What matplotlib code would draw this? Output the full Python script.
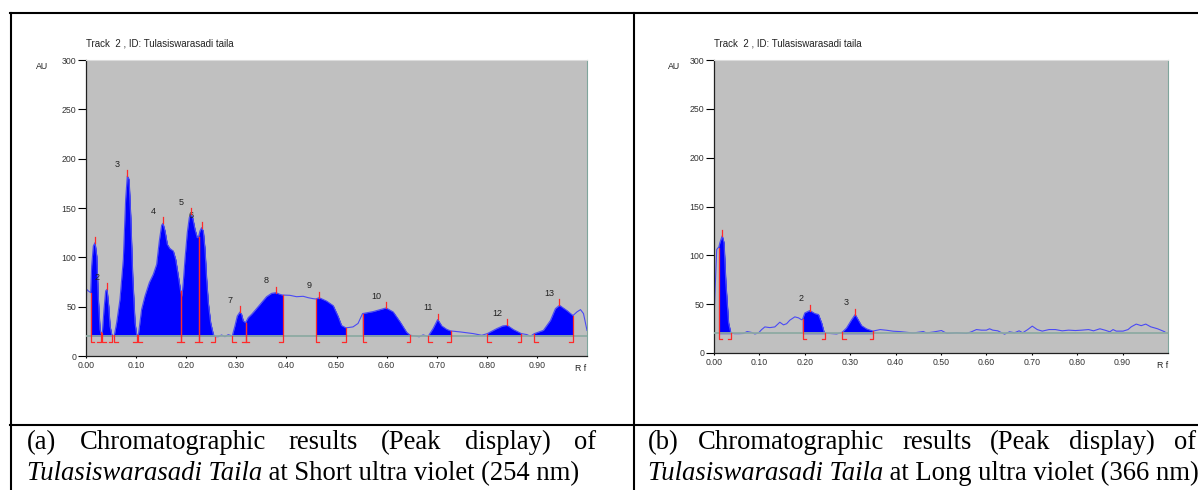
import numpy as np
import matplotlib
matplotlib.use("Agg")
import matplotlib.pyplot as plt
from matplotlib.lines import Line2D

# ---- panel (a): 254 nm scan, Rf vs AU ----
rf_a = [0.0, 0.0013, 0.0047, 0.0093, 0.0113, 0.0146, 0.018, 0.0213, 0.0246, 0.0279, 0.0299,
        0.0326, 0.0359, 0.0392, 0.0419, 0.0452, 0.0479, 0.0512, 0.0539, 0.0565, 0.0612,
        0.0678, 0.0745, 0.0791, 0.0824, 0.0858, 0.0891, 0.0931, 0.0977, 0.1011, 0.1044,
        0.111, 0.1177, 0.1263, 0.1343, 0.141, 0.1463, 0.1509, 0.1536, 0.1576, 0.1622,
        0.1676, 0.1742, 0.1789, 0.1842, 0.1888, 0.1915, 0.1941, 0.1975, 0.2021, 0.2061,
        0.2094, 0.2128, 0.2174, 0.2221, 0.2247, 0.2274, 0.2307, 0.234, 0.2374, 0.2407,
        0.244, 0.2487, 0.254, 0.2573, 0.264, 0.2706, 0.2773, 0.2839, 0.2919, 0.2972,
        0.3019, 0.3072, 0.3105, 0.3138, 0.3185, 0.3238, 0.3305, 0.3404, 0.3504, 0.3604,
        0.3703, 0.379, 0.387, 0.3923, 0.4069, 0.4202, 0.4335, 0.4435, 0.4535, 0.4588,
        0.4654, 0.48, 0.4934, 0.5033, 0.51, 0.5186, 0.533, 0.543, 0.552, 0.573, 0.587,
        0.599, 0.613, 0.627, 0.64, 0.647, 0.657, 0.665, 0.673, 0.681, 0.683, 0.693, 0.702,
        0.71, 0.72, 0.728, 0.747, 0.773, 0.79, 0.801, 0.82, 0.832, 0.841, 0.853, 0.869,
        0.88, 0.887, 0.895, 0.913, 0.927, 0.937, 0.945, 0.96, 0.972, 0.98, 0.987, 0.993, 1.0]
au_a = [32.1, 67.6, 65.9, 64.2, 91.2, 111.5, 114.9, 101.4, 57.4, 27.0, 22.6,
        23.6, 47.3, 65.9, 67.6, 50.7, 30.4, 22.0, 19.6, 20.9, 33.8,
        57.4, 98.0, 158.8, 182.4, 179.1, 141.9, 81.1, 33.8, 21.6, 20.9,
        47.3, 60.8, 74.3, 82.8, 92.9, 116.6, 132.4, 134.5, 126.7, 113.2,
        108.8, 106.4, 98.0, 81.1, 65.9, 60.8, 74.3, 98.0, 125.0, 140.2,
        143.6, 140.2, 128.4, 119.9, 120.9, 126.7, 130.1, 126.7, 108.1, 77.7,
        54.1, 33.8, 22.0, 19.6, 19.6, 21.3, 19.6, 21.6, 20.3, 30.4,
        40.5, 44.6, 42.2, 35.5, 33.8, 38.9, 42.2, 48.0, 54.1, 60.1,
        63.5, 64.2, 62.5, 61.8, 61.5, 60.1, 60.5, 59.1, 58.1, 57.8,
        59.1, 55.7, 51.0, 40.0, 31.0, 28.5, 29.5, 33.0, 43.0, 45.0, 47.0,
        48.7, 44.7, 34.5, 24.0, 21.0, 20.3, 19.5, 21.4, 20.0, 20.0, 28.0, 37.0,
        30.5, 27.0, 25.4, 24.4, 22.7, 21.0, 22.7, 27.8, 30.5, 31.0, 26.8, 22.7,
        21.7, 20.0, 22.7, 26.0, 36.0, 48.0, 51.4, 46.0, 41.0, 44.7, 47.0, 43.0, 26.0]
start_a = [0.0093, 0.0326, 0.0565, 0.1044, 0.1888, 0.2247, 0.2919, 0.3185, 0.4588,
           0.552, 0.683, 0.801, 0.895]
end_a = [0.0293, 0.052, 0.1011, 0.1888, 0.2247, 0.2573, 0.3185, 0.3923, 0.5186,
         0.647, 0.728, 0.869, 0.972]
max_a = [0.018, 0.0419, 0.0824, 0.1536, 0.2094, 0.2307, 0.3072, 0.379, 0.4654,
         0.599, 0.702, 0.841, 0.945]

# ---- panel (b): 366 nm scan ----
rf_b = [0.0, 0.0022, 0.006, 0.0095, 0.0103, 0.013, 0.018, 0.022, 0.026, 0.032, 0.037,
        0.045, 0.055, 0.065, 0.073, 0.083, 0.09, 0.098, 0.105, 0.112, 0.123, 0.134,
        0.145, 0.153, 0.16, 0.167, 0.178, 0.186, 0.193, 0.195, 0.2, 0.211, 0.222, 0.23,
        0.237, 0.242, 0.2445, 0.255, 0.27, 0.281, 0.283, 0.292, 0.303, 0.311, 0.318,
        0.325, 0.336, 0.349, 0.351, 0.366, 0.38, 0.395, 0.41, 0.424, 0.439, 0.461,
        0.468, 0.483, 0.501, 0.513, 0.535, 0.556, 0.567, 0.578, 0.589, 0.6, 0.607,
        0.614, 0.625, 0.64, 0.651, 0.662, 0.672, 0.68, 0.691, 0.701, 0.712, 0.723,
        0.738, 0.752, 0.767, 0.781, 0.796, 0.81, 0.825, 0.836, 0.85, 0.861, 0.872,
        0.879, 0.886, 0.901, 0.912, 0.919, 0.93, 0.941, 0.951, 0.962, 0.977, 0.993]
au_b = [34, 62, 106, 108, 108, 113, 120, 113, 72, 31, 20.5,
        19.8, 19.8, 20, 22, 21, 19.5, 20.5, 24, 26.7, 26, 26.7,
        31.5, 28.8, 30, 33.6, 37, 36, 34, 34.5, 41, 43.5, 40.4, 39.4,
        30.8, 22, 20.5, 20, 19.5, 21, 21.5, 25.7, 34, 39.4, 33.6,
        28, 24.7, 22.6, 22.5, 24, 23.3, 22.3, 21.9, 21.2, 20.5, 22,
        20.5, 21.5, 23, 20, 20.7, 20, 21.7, 24, 23.4, 23.4, 24.8,
        23.4, 22.7, 19.3, 21.7, 20.7, 22.7, 20.7, 24, 27.5, 24, 22.4,
        24, 24, 22.7, 23.4, 23, 23.4, 24, 22.7, 24.8, 23.4, 21.7,
        24, 22.4, 22.4, 24, 26.8, 29.6, 28, 29.6, 26.8, 24.8, 21.7]
start_b = [0.0103, 0.195, 0.283]
end_b = [0.037, 0.2445, 0.351]
max_b = [0.018, 0.211, 0.311]

baseline_au = 20
y_ticks = [0, 50, 100, 150, 200, 250, 300]
x_ticks = [0.0, 0.1, 0.2, 0.3, 0.4, 0.5, 0.6, 0.7, 0.8, 0.9]
track_title = "Track  2 , ID: Tulasiswarasadi taila"
caption_a = ["(a)", "Chromatographic", "results", "(Peak", "display)", "of"]
caption_b = ["(b)", "Chromatographic", "results", "(Peak", "display)", "of"]
species = "Tulasiswarasadi Taila"
tail_a = " at Short ultra violet (254 nm)"
tail_b = " at Long ultra violet (366 nm)"

W, H = 1198, 490
RED = "#ff2a2a"
SANS = "Liberation Sans"
SERIF = "Liberation Serif"


def draw_panel(ax, rf, au, starts, ends, maxima):
    rf = np.asarray(rf)
    au = np.asarray(au)
    ax.set_facecolor("#c0c0c0")
    ax.set_xlim(0, 1.0)
    ax.set_ylim(0, 300)
    ax.axhline(baseline_au, color="#8eaaa3", lw=1.3, zorder=3)

    for num, (s, e, m) in enumerate(zip(starts, ends, maxima), start=1):
        inside = (rf > s) & (rf < e)
        xs = np.concatenate([[s], rf[inside], [e]])
        ys = np.interp(xs, rf, au)
        ax.fill_between(xs, baseline_au, ys, color="#0000ff", lw=0.3,
                        edgecolor="#0000ff", zorder=2)
        for x, d in ((s, 1), (e, -1)):
            top = np.interp(x, rf, au)
            ax.plot([x, x, x + d * 0.007], [top, 14, 14], color=RED, lw=0.9, zorder=4)
        h = np.interp(m, rf, au)
        ax.plot([m, m], [h, h + 6], color=RED, lw=0.9, zorder=4)
        # software hides labels that fall left of Rf 0
        if m - 0.02 > 0:
            ax.text(m - 0.02, h + 12, str(num), ha="center", va="center",
                    fontsize=6.5, family=SANS, color="#222222")

    ax.plot(rf, au, color="#4a4af5", lw=0.8, zorder=2.5)

    ax.spines["top"].set_color("#dcdcdc")
    ax.spines["right"].set_color("#7fa59c")
    for side in ("left", "bottom"):
        ax.spines[side].set_color("#202020")
        ax.spines[side].set_linewidth(0.9)

    ax.set_yticks(y_ticks)
    ax.set_yticklabels([str(v) for v in y_ticks])
    ax.set_xticks(x_ticks)
    ax.set_xticklabels([f"{v:.2f}" for v in x_ticks])
    ax.tick_params(axis="y", length=5.5, width=0.8, pad=1.5, labelsize=6.3,
                   labelcolor="#333333")
    ax.tick_params(axis="x", length=1.5, width=0.8, pad=2, labelsize=6.3,
                   labelcolor="#333333")
    for lab in ax.get_xticklabels() + ax.get_yticklabels():
        lab.set_family(SANS)

    ax.text(0.0, 1.057, track_title, transform=ax.transAxes, ha="left", va="center",
            fontsize=7, family=SANS, color="#222222")
    ax.text(-0.088, 0.978, "AU", transform=ax.transAxes, ha="center", va="center",
            fontsize=6.3, family=SANS, color="#222222")
    ax.text(0.988, -0.042, "R f", transform=ax.transAxes, ha="center", va="center",
            fontsize=6.3, family=SANS, color="#222222")


def text_line(fig, renderer, pieces, x0, x1, y, justify):
    # pieces: list of (text, style); x0/x1 in pixels, y baseline in pixels
    arts = [fig.text(0, 1 - y / H, t, fontsize=19.2, family=SERIF, style=st,
                     va="baseline", ha="left") for t, st in pieces]
    widths = [a.get_window_extent(renderer).width for a in arts]
    gap = (x1 - x0 - sum(widths)) / (len(arts) - 1) if justify else 0
    x = x0
    for a, w in zip(arts, widths):
        a.set_x(x / W)
        x += w + gap


fig = plt.figure(figsize=(W / 100, H / 100), dpi=100)
ax_a = fig.add_axes([86 / W, 1 - 356 / H, (587 - 86) / W, 296 / H])
ax_b = fig.add_axes([714 / W, 1 - 353 / H, (1168 - 714) / W, 293 / H])
draw_panel(ax_a, rf_a, au_a, start_a, end_a, max_a)
draw_panel(ax_b, rf_b, au_b, start_b, end_b, max_b)

# table frame
for x0, y0, x1, y1 in [(10, 13, W, 13), (10, 425, W, 425), (11, 13, 11, H), (634, 13, 634, H)]:
    fig.add_artist(Line2D([x0 / W, x1 / W], [1 - y0 / H, 1 - y1 / H], color="black",
                          lw=1.5, transform=fig.transFigure))

renderer = fig.canvas.get_renderer()
text_line(fig, renderer, [(w, "normal") for w in caption_a], 27, 596, 449, True)
text_line(fig, renderer, [(species, "italic"), (tail_a, "normal")], 27, 596, 480, False)
text_line(fig, renderer, [(w, "normal") for w in caption_b], 648, 1196, 449, True)
text_line(fig, renderer, [(species, "italic"), (tail_b, "normal")], 648, 1196, 480, False)

fig.savefig("out.png", dpi=100, facecolor="white")
